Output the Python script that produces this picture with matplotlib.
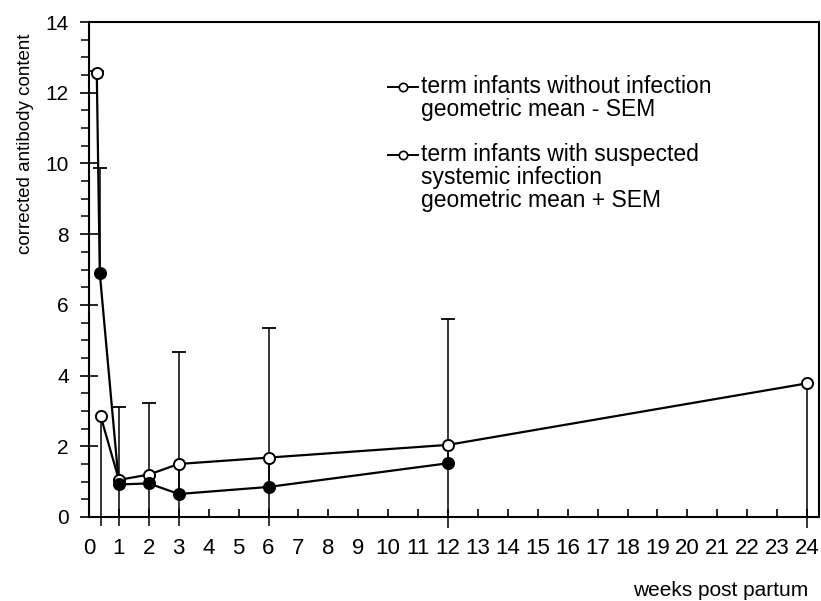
import matplotlib
matplotlib.use("Agg")
import matplotlib.pyplot as plt
from matplotlib.ticker import MultipleLocator

plt.rcParams['font.family'] = ['Liberation Sans', 'DejaVu Sans']

# term infants with suspected systemic infection (geometric mean + SEM)
inf_weeks = [0.26, 0.36, 1, 2, 3, 6, 12]
inf_mean = [12.55, 6.9, 0.92, 0.95, 0.65, 0.85, 1.52]
inf_upper = [12.62, 9.87, 3.1, 3.22, 4.66, 5.35, 5.6]
inf_filled = [False, True, True, True, True, True, True]

# term infants without infection (geometric mean - SEM)
ctl_weeks = [0.39, 1, 2, 3, 6, 12, 24]
ctl_mean = [2.85, 1.05, 1.2, 1.5, 1.68, 2.04, 3.78]
ctl_lower = [-0.25, -0.25, -0.25, -0.25, -0.25, -0.3, -0.3]

week_ticks = list(range(0, 25))

W, H = 821, 601
fig = plt.figure(figsize=(W / 100, H / 100), dpi=100)
ax = fig.add_axes([89 / W, (H - 517) / H, (819 - 89) / W, (517 - 22) / H])

# error bars: + SEM up with a cap, - SEM down past the axis
ax.vlines(inf_weeks, inf_mean, inf_upper, color='black', linewidth=1.1, zorder=2)
ax.plot(inf_weeks, inf_upper, ls='none', marker='_', ms=10, mew=1.3,
        color='black', zorder=2)
ax.vlines(ctl_weeks, ctl_lower, ctl_mean, color='black', linewidth=1.1,
          clip_on=False, zorder=2)

# lines
ax.plot(inf_weeks, inf_mean, color='black', linewidth=1.6, zorder=3)
ax.plot(ctl_weeks, ctl_mean, color='black', linewidth=1.6, zorder=3)

# markers
for x, y, f in zip(inf_weeks, inf_mean, inf_filled):
    ax.plot(x, y, 'o', ms=8, mew=1.4, mec='black',
            mfc='black' if f else 'white', zorder=5)
ax.plot(ctl_weeks, ctl_mean, 'o', ms=8, mew=1.4, mec='black', mfc='white', zorder=4)

ax.set_xlim(0, 24.4)
ax.set_ylim(0, 14)
ax.set_xticks(week_ticks)
ax.set_xticklabels([str(w) for w in week_ticks])
ax.yaxis.set_major_locator(MultipleLocator(2))
ax.yaxis.set_minor_locator(MultipleLocator(0.5))
ax.tick_params(axis='x', direction='in', length=6, width=1.2, pad=15, labelsize=16)
ax.tick_params(axis='y', which='major', direction='inout', length=13, width=1.2,
               pad=8, labelsize=15)
ax.tick_params(axis='y', which='minor', direction='out', length=6, width=1.1)
for s in ax.spines.values():
    s.set_linewidth(1.5)


# legend drawn by hand
def to_ax(px, py):
    return (px - 89) / 730, (517 - py) / 495


for py, lines in [(87, ["term infants without infection", "geometric mean - SEM"]),
                  (155, ["term infants with suspected", "systemic infection",
                         "geometric mean + SEM"])]:
    x0, y0 = to_ax(388, py)
    x1, _ = to_ax(418, py)
    xm, _ = to_ax(403, py)
    ax.plot([x0, x1], [y0, y0], color='black', linewidth=1.4,
            transform=ax.transAxes, clip_on=False)
    ax.plot([xm], [y0], 'o', ms=6, mew=1.2, mec='black', mfc='white',
            transform=ax.transAxes, clip_on=False)
    tx, _ = to_ax(421, py)
    ax.text(tx, y0 + 12 / 495, "\n".join(lines), transform=ax.transAxes,
            ha='left', va='top', fontsize=16.5, linespacing=1.0)

fig.text(25 / W, 1 - 144 / H, "corrected antibody content", rotation=90,
         ha='center', va='center', fontsize=13.5)
fig.text(808 / W, 1 - 590 / H, "weeks post partum", ha='right', va='center',
         fontsize=15)

fig.savefig("out.png", dpi=100)
